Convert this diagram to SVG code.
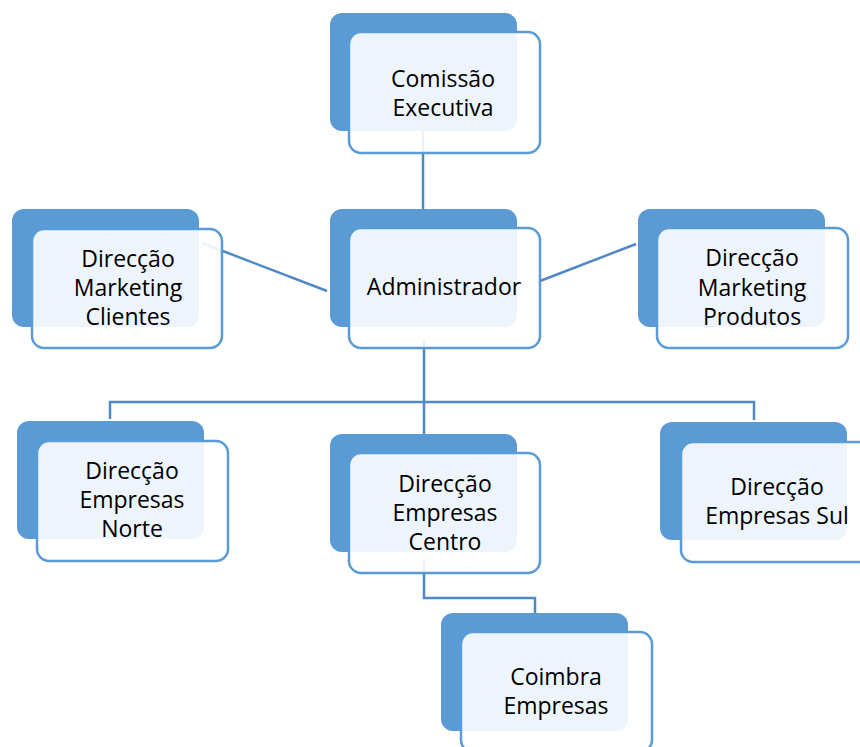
<svg xmlns="http://www.w3.org/2000/svg" width="860" height="747" viewBox="0 0 860 747">
<style>
.back{fill:#5B9BD5;}
.front{fill:#ffffff;fill-opacity:0.89;stroke:#5B9BD5;stroke-width:2.5;}
.lbl{font-family:"Open Sans","Noto Sans",sans-serif;font-size:23px;fill:#000;text-anchor:middle;}
.conn{fill:none;stroke:#4F88C6;stroke-width:2.5;}
</style>
<rect width="860" height="747" fill="#ffffff"/>
<g id="connectors">
<line class="conn" x1="423" y1="131" x2="423" y2="210"/>
<line class="conn" x1="202" y1="243" x2="327" y2="291"/>
<line class="conn" x1="540" y1="281" x2="636" y2="244"/>
<line class="conn" x1="424" y1="340" x2="424" y2="435"/>
<polyline class="conn" points="110,419 110,402 754,402 754,420"/>
<polyline class="conn" points="424,560 424,598 535,598 535,613"/>
</g>
<g id="comissao">
<rect class="back" x="330" y="13" width="187" height="118" rx="12"/>
<rect class="front" x="349" y="32" width="191" height="121" rx="12"/>
<text class="lbl" x="443" y="87">Comissão</text>
<text class="lbl" x="443" y="116">Executiva</text>
</g>
<g id="clientes">
<rect class="back" x="12" y="209" width="187" height="118" rx="12"/>
<rect class="front" x="32" y="229" width="190" height="119" rx="12"/>
<text class="lbl" x="128" y="267">Direcção</text>
<text class="lbl" x="128" y="296">Marketing</text>
<text class="lbl" x="128" y="325">Clientes</text>
</g>
<g id="administrador">
<rect class="back" x="330" y="209" width="187" height="118" rx="12"/>
<rect class="front" x="349" y="228" width="191" height="120" rx="12"/>
<text class="lbl" x="444" y="295">Administrador</text>
</g>
<g id="produtos">
<rect class="back" x="638" y="209" width="187" height="118" rx="12"/>
<rect class="front" x="657" y="228" width="191" height="120" rx="12"/>
<text class="lbl" x="752" y="266">Direcção</text>
<text class="lbl" x="752" y="296">Marketing</text>
<text class="lbl" x="752" y="325">Produtos</text>
</g>
<g id="norte">
<rect class="back" x="17" y="421" width="187" height="118" rx="12"/>
<rect class="front" x="37" y="441" width="191" height="120" rx="12"/>
<text class="lbl" x="132" y="479">Direcção</text>
<text class="lbl" x="132" y="508">Empresas</text>
<text class="lbl" x="132" y="537">Norte</text>
</g>
<g id="centro">
<rect class="back" x="330" y="434" width="187" height="118" rx="12"/>
<rect class="front" x="349" y="453" width="191" height="120" rx="12"/>
<text class="lbl" x="445" y="492">Direcção</text>
<text class="lbl" x="445" y="521">Empresas</text>
<text class="lbl" x="445" y="550">Centro</text>
</g>
<g id="sul">
<rect class="back" x="660" y="422" width="187" height="118" rx="12"/>
<rect class="front" x="681" y="442" width="191" height="120" rx="12"/>
<text class="lbl" x="777" y="495">Direcção</text>
<text class="lbl" x="777" y="524">Empresas Sul</text>
</g>
<g id="coimbra">
<rect class="back" x="441" y="613" width="187" height="118" rx="12"/>
<rect class="front" x="461" y="632" width="191" height="120" rx="12"/>
<text class="lbl" x="556" y="685">Coimbra</text>
<text class="lbl" x="556" y="714">Empresas</text>
</g>
</svg>
